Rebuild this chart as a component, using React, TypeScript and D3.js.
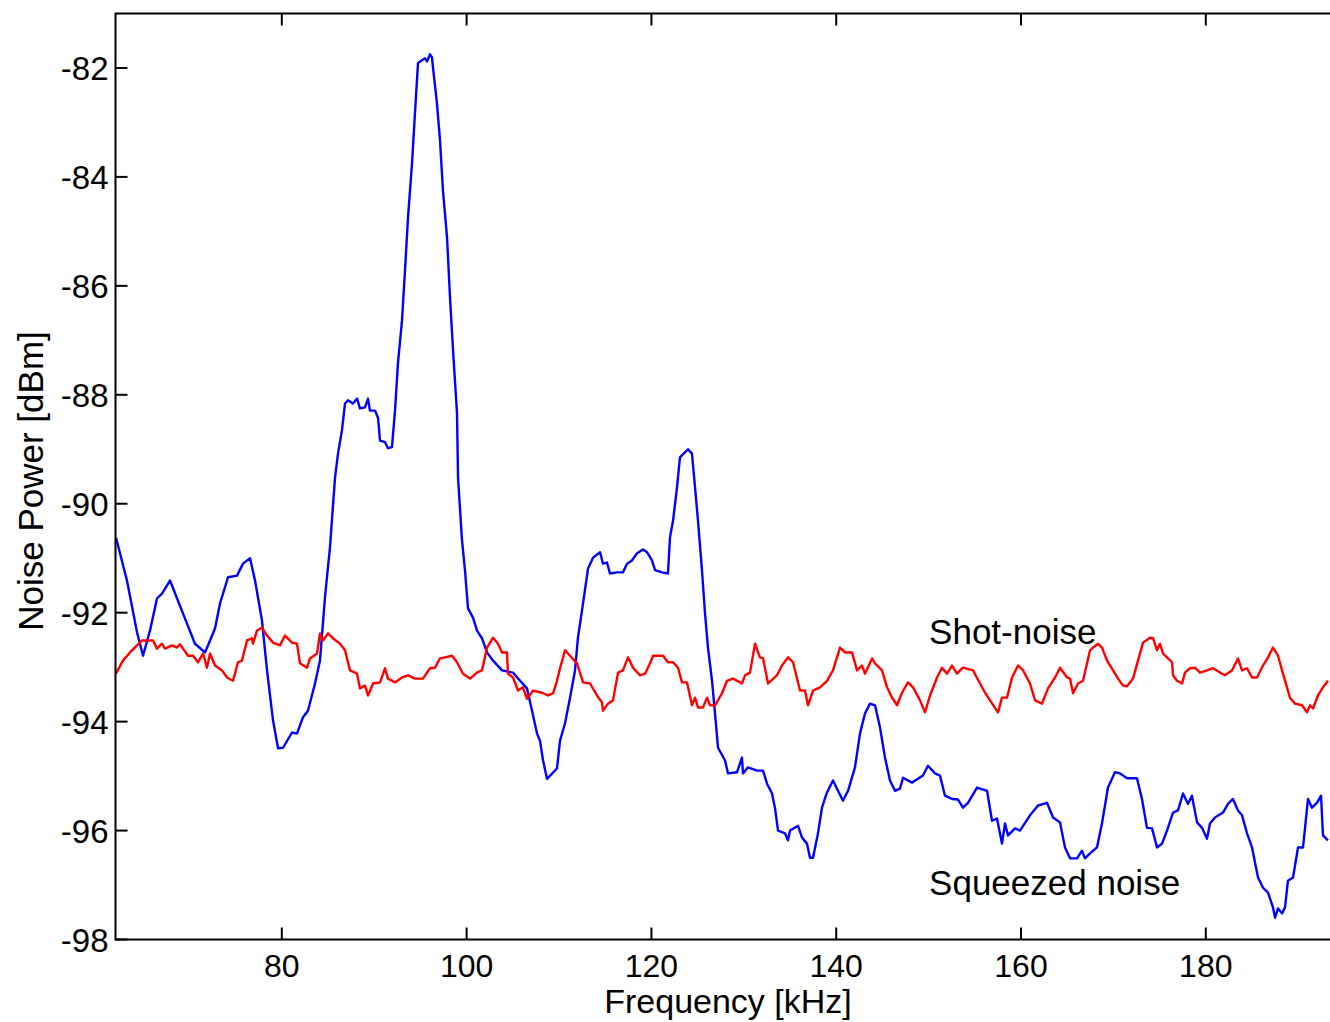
import React, { useRef, useEffect } from "react";
import * as d3 from "d3";

// squeezed noise trace (blue)
const squeezedFreq = [
  62.05, 63.24, 64.33, 64.98, 65.73, 66.49, 67.03, 67.9, 68.76, 69.74, 70.6, 71.69, 72.77, 73.31, 74.18, 75.15, 75.8, 76.56,
  77.1, 77.85, 78.4, 79.05, 79.59, 80.13, 81.1, 81.64, 82.29, 82.83, 83.59, 84.13, 84.67, 85.21, 85.76, 86.08, 86.51, 86.84,
  87.16, 87.7, 88.14, 88.46, 89.0, 89.33, 89.54, 90.08, 90.41, 90.63, 91.17, 91.49, 91.92, 92.25, 92.57, 93.01, 93.33, 93.66,
  94.09, 94.41, 94.74, 95.17, 95.5, 95.71, 96.04, 96.25, 96.36, 96.79, 97.12, 97.44, 97.88, 98.2, 98.53, 98.96, 99.07, 99.5,
  99.82, 100.15, 100.69, 101.12, 101.66, 102.21, 102.86, 103.83, 105.02, 105.78, 106.53, 107.08, 107.62, 107.94, 108.27,
  108.7, 109.78, 110.11, 110.65, 111.19, 111.73, 112.05, 112.6, 113.14, 113.68, 114.44, 114.76, 115.19, 115.52, 116.28,
  116.92, 117.36, 117.9, 118.44, 119.09, 119.52, 120.06, 120.39, 121.15, 121.79, 122.01, 122.34, 122.77, 123.09, 123.96,
  124.39, 124.72, 125.04, 125.47, 125.8, 126.12, 126.56, 126.88, 127.21, 127.96, 128.29, 129.26, 129.8, 129.91, 130.45,
  131.43, 132.08, 132.51, 133.05, 133.37, 133.7, 134.46, 134.78, 135.0, 135.86, 136.3, 136.84, 137.16, 137.49, 138.03,
  138.46, 139.0, 139.65, 140.19, 140.73, 141.28, 142.03, 142.57, 143.11, 143.66, 144.2, 144.74, 145.28, 145.82, 146.36,
  146.9, 147.23, 148.2, 149.39, 149.93, 150.69, 151.23, 151.77, 152.53, 153.18, 153.72, 154.26, 155.24, 156.32, 156.86,
  157.4, 157.94, 158.27, 158.59, 159.35, 159.89, 160.97, 161.84, 162.81, 163.46, 164.22, 164.76, 165.3, 166.06, 166.6,
  166.92, 167.47, 168.22, 168.76, 169.41, 170.17, 170.71, 171.47, 172.55, 173.09, 173.63, 174.18, 174.72, 175.26, 175.8,
  176.45, 176.99, 177.53, 178.07, 178.5, 179.05, 179.59, 180.13, 180.45, 180.99, 181.86, 182.4, 182.94, 183.48, 183.92,
  184.46, 185.0, 185.65, 186.19, 186.73, 187.27, 187.49, 187.81, 188.25, 188.57, 188.89, 189.44, 189.98, 190.52, 191.06,
  191.49, 192.03, 192.47, 192.68, 193.22,
];
const squeezedPower = [
  -90.62, -91.41, -92.36, -92.79, -92.33, -91.74, -91.65, -91.41, -91.78, -92.2, -92.57, -92.73, -92.29, -91.83, -91.35,
  -91.32, -91.1, -91.0, -91.41, -92.14, -93.06, -93.98, -94.49, -94.48, -94.2, -94.22, -93.92, -93.8, -93.3, -92.88, -91.72,
  -90.8, -89.52, -89.08, -88.65, -88.16, -88.1, -88.16, -88.07, -88.25, -88.23, -88.07, -88.29, -88.29, -88.42, -88.84,
  -88.87, -88.98, -88.96, -88.29, -87.42, -86.63, -85.72, -84.74, -83.75, -82.83, -81.91, -81.86, -81.82, -81.88, -81.75,
  -81.8, -81.99, -82.65, -83.33, -84.25, -85.11, -86.21, -87.18, -88.34, -89.52, -90.67, -91.22, -91.92, -92.09, -92.33,
  -92.47, -92.73, -92.88, -93.06, -93.1, -93.25, -93.39, -93.8, -94.22, -94.35, -94.71, -95.05, -94.86, -94.35, -94.03,
  -93.56, -93.06, -92.46, -91.83, -91.19, -90.99, -90.89, -91.1, -91.08, -91.28, -91.26, -91.26, -91.1, -91.04, -90.91,
  -90.84, -90.89, -91.04, -91.22, -91.26, -91.28, -90.62, -90.31, -89.7, -89.15, -89.0, -89.08, -89.7, -90.31, -91.22,
  -92.01, -92.64, -93.25, -93.85, -94.48, -94.71, -94.95, -94.93, -94.66, -94.95, -94.84, -94.9, -94.9, -95.14, -95.32,
  -95.58, -96.0, -96.05, -96.18, -96.0, -95.91, -96.13, -96.24, -96.5, -96.5, -96.05, -95.58, -95.3, -95.08, -95.27, -95.45,
  -95.27, -94.84, -94.22, -93.85, -93.67, -93.7, -94.11, -94.66, -95.08, -95.27, -95.23, -95.03, -95.12, -94.99, -94.81,
  -94.95, -94.99, -95.36, -95.42, -95.43, -95.58, -95.49, -95.21, -95.27, -95.82, -95.78, -96.24, -95.87, -96.09, -95.96,
  -96.0, -95.72, -95.54, -95.49, -95.76, -95.85, -96.31, -96.51, -96.51, -96.37, -96.51, -96.42, -96.31, -95.87, -95.21,
  -94.93, -94.95, -95.04, -95.04, -95.42, -95.95, -95.96, -96.31, -96.24, -96.0, -95.67, -95.63, -95.32, -95.51, -95.36,
  -95.85, -95.95, -96.15, -95.87, -95.76, -95.67, -95.51, -95.42, -95.63, -95.72, -96.05, -96.31, -96.86, -97.05, -97.14,
  -97.41, -97.6, -97.43, -97.52, -97.41, -96.92, -96.86, -96.31, -96.31, -95.42, -95.58, -95.49, -95.36, -96.09, -96.18,
];

// shot-noise reference trace (red)
const shotFreq = [
  62.05, 62.81, 63.57, 64.33, 64.87, 66.06, 66.49, 67.03, 67.36, 68.11, 68.66, 68.98, 69.31, 69.85, 70.39, 70.93, 71.47,
  71.9, 72.23, 72.77, 73.53, 74.07, 74.72, 75.26, 75.69, 76.23, 76.77, 76.88, 77.31, 77.85, 78.4, 79.05, 79.8, 80.35, 81.1,
  81.64, 81.97, 82.73, 83.05, 83.81, 84.13, 84.46, 85.0, 85.54, 86.3, 86.84, 87.38, 88.14, 88.46, 89.0, 89.33, 89.87, 90.63,
  91.17, 91.49, 92.25, 93.01, 93.66, 94.41, 95.28, 96.04, 96.58, 97.12, 97.66, 98.42, 98.96, 99.61, 100.37, 101.12, 101.66,
  102.21, 102.86, 103.4, 103.83, 104.37, 104.48, 105.02, 105.56, 106.1, 106.53, 107.19, 108.16, 108.81, 109.35, 109.78,
  110.11, 110.65, 111.19, 111.95, 112.6, 113.36, 114.11, 114.65, 114.76, 115.3, 115.84, 116.39, 116.92, 117.47, 118.01,
  118.77, 119.31, 119.85, 120.17, 121.26, 121.79, 122.34, 122.88, 123.31, 123.85, 124.39, 124.72, 125.04, 125.58, 126.02,
  126.34, 126.88, 127.64, 128.18, 128.83, 129.8, 130.13, 130.67, 131.21, 131.75, 132.08, 132.62, 133.59, 134.13, 134.78,
  135.33, 136.08, 136.62, 136.95, 137.49, 138.25, 139.0, 139.65, 140.41, 140.95, 141.71, 142.25, 142.79, 143.11, 143.88,
  144.2, 144.96, 145.5, 146.04, 146.58, 147.12, 147.77, 148.31, 149.07, 149.61, 150.15, 150.91, 151.45, 151.99, 152.53,
  153.07, 153.72, 154.81, 155.56, 156.11, 156.65, 157.51, 157.94, 158.49, 159.03, 159.68, 160.22, 160.97, 161.52, 162.27,
  162.92, 163.68, 164.22, 164.98, 165.3, 165.63, 166.17, 166.71, 167.47, 167.79, 168.34, 168.76, 169.31, 169.96, 170.5,
  171.04, 171.47, 172.12, 172.66, 173.2, 173.96, 174.29, 174.72, 175.04, 175.37, 175.8, 176.34, 176.45, 176.88, 177.43,
  177.75, 178.29, 178.83, 179.37, 180.13, 180.78, 181.54, 182.08, 182.83, 183.48, 183.92, 184.46, 185.0, 185.54, 186.19,
  186.73, 187.27, 187.81, 188.35, 189.11, 189.65, 190.41, 190.95, 191.28, 191.6, 192.14, 192.68, 193.22,
];
const shotPower = [
  -93.12, -92.88, -92.73, -92.6, -92.51, -92.51, -92.66, -92.57, -92.66, -92.6, -92.64, -92.58, -92.66, -92.79, -92.79,
  -92.91, -92.75, -93.01, -92.75, -92.97, -93.06, -93.19, -93.25, -92.91, -92.88, -92.51, -92.47, -92.57, -92.33, -92.27,
  -92.42, -92.55, -92.6, -92.42, -92.55, -92.57, -92.93, -93.01, -92.84, -92.75, -92.38, -92.51, -92.38, -92.47, -92.57,
  -92.69, -93.06, -93.12, -93.39, -93.34, -93.52, -93.3, -93.28, -93.02, -93.21, -93.28, -93.19, -93.15, -93.21, -93.21,
  -93.02, -93.01, -92.84, -92.82, -92.79, -92.91, -93.12, -93.21, -93.1, -93.06, -92.64, -92.46, -92.57, -92.73, -92.73,
  -93.12, -93.19, -93.43, -93.37, -93.58, -93.43, -93.47, -93.52, -93.48, -93.25, -93.02, -92.69, -92.79, -92.93, -93.28,
  -93.3, -93.52, -93.65, -93.8, -93.67, -93.61, -93.1, -93.06, -92.82, -93.01, -93.15, -93.12, -92.93, -92.79, -92.79,
  -92.91, -92.91, -93.01, -93.28, -93.28, -93.7, -93.56, -93.74, -93.74, -93.56, -93.7, -93.7, -93.48, -93.25, -93.21,
  -93.3, -93.15, -93.1, -92.57, -92.82, -92.84, -93.3, -93.15, -92.97, -92.82, -92.91, -93.43, -93.43, -93.7, -93.43,
  -93.37, -93.25, -93.06, -92.64, -92.73, -92.73, -93.06, -92.97, -93.12, -92.84, -92.93, -93.06, -93.37, -93.56, -93.7,
  -93.47, -93.28, -93.37, -93.61, -93.83, -93.52, -93.19, -93.01, -93.12, -92.97, -93.12, -93.01, -93.06, -93.3, -93.47,
  -93.61, -93.83, -93.56, -93.56, -93.19, -92.97, -93.06, -93.3, -93.61, -93.67, -93.39, -93.19, -93.01, -93.19, -93.21,
  -93.48, -93.3, -93.25, -92.69, -92.64, -92.57, -92.64, -92.88, -93.06, -93.21, -93.34, -93.35, -93.21, -92.88, -92.55,
  -92.46, -92.47, -92.69, -92.57, -92.75, -92.82, -92.91, -93.15, -93.25, -93.3, -93.1, -93.02, -93.01, -93.1, -93.06,
  -93.02, -93.1, -93.15, -93.06, -92.84, -93.06, -93.02, -93.19, -93.19, -92.97, -92.82, -92.64, -92.79, -93.12, -93.56,
  -93.67, -93.7, -93.83, -93.7, -93.76, -93.52, -93.37, -93.25,
];

const xTicks = [80, 100, 120, 140, 160, 180];
const yTicks = [-98, -96, -94, -92, -90, -88, -86, -84, -82];
const labels = [
  { text: "Shot-noise", f: 150.05, p: -92.57 },
  { text: "Squeezed noise", f: 150.05, p: -97.18 },
];

const W = 1330;
const H = 1022;
const FONT = "'Liberation Sans', Arial, sans-serif";

const App = () => {
  const ref = useRef(null);

  useEffect(() => {
    const svg = d3.select(ref.current);
    svg.selectAll("*").remove();

    const left = 115.5;
    const top = 13.5;
    const bottom = 939.5;
    const right = 1334;

    const x = d3.scaleLinear().domain([62, 193.5]).range([left, left + 131.5 * 9.24]);
    const y = d3.scaleLinear().domain([-98, -81]).range([bottom, top]);

    const g = svg.append("g");

    const line = (fs, ps) =>
      d3
        .line()
        .x((d) => x(fs[d]))
        .y((d) => y(ps[d]))(d3.range(fs.length));

    g.append("path")
      .attr("d", line(squeezedFreq, squeezedPower))
      .attr("fill", "none")
      .attr("stroke", "#0000ff")
      .attr("stroke-width", 2.4)
      .attr("stroke-linejoin", "round");

    g.append("path")
      .attr("d", line(shotFreq, shotPower))
      .attr("fill", "none")
      .attr("stroke", "#ff0000")
      .attr("stroke-width", 2.4)
      .attr("stroke-linejoin", "round");

    // box
    g.append("rect")
      .attr("x", left)
      .attr("y", top)
      .attr("width", right - left)
      .attr("height", bottom - top)
      .attr("fill", "none")
      .attr("stroke", "#000")
      .attr("stroke-width", 2);

    // x ticks, bottom and top, inward
    xTicks.forEach((t) => {
      g.append("line")
        .attr("x1", x(t))
        .attr("x2", x(t))
        .attr("y1", bottom)
        .attr("y2", bottom - 12)
        .attr("stroke", "#000")
        .attr("stroke-width", 2);
      g.append("line")
        .attr("x1", x(t))
        .attr("x2", x(t))
        .attr("y1", top)
        .attr("y2", top + 12)
        .attr("stroke", "#000")
        .attr("stroke-width", 2);
      g.append("text")
        .attr("x", x(t))
        .attr("y", bottom + 37)
        .attr("text-anchor", "middle")
        .attr("font-family", FONT)
        .attr("font-size", 32)
        .text(t);
    });

    yTicks.forEach((t) => {
      g.append("line")
        .attr("x1", left)
        .attr("x2", left + 12)
        .attr("y1", y(t))
        .attr("y2", y(t))
        .attr("stroke", "#000")
        .attr("stroke-width", 2);
      g.append("text")
        .attr("x", left - 7)
        .attr("y", y(t) + 12)
        .attr("text-anchor", "end")
        .attr("font-family", FONT)
        .attr("font-size", 33)
        .text(t);
    });

    g.append("text")
      .attr("x", 728)
      .attr("y", 1013)
      .attr("text-anchor", "middle")
      .attr("font-family", FONT)
      .attr("font-size", 34)
      .text("Frequency [kHz]");

    g.append("text")
      .attr("transform", `translate(43,481) rotate(-90)`)
      .attr("text-anchor", "middle")
      .attr("font-family", FONT)
      .attr("font-size", 35)
      .text("Noise Power [dBm]");

    labels.forEach((l) => {
      g.append("text")
        .attr("x", x(l.f))
        .attr("y", y(l.p))
        .attr("font-family", FONT)
        .attr("font-size", 35)
        .text(l.text);
    });
  }, []);

  return (
    <svg
      ref={ref}
      width={W}
      height={H}
      style={{ position: "absolute", left: 0, top: 0, background: "#fff" }}
    ></svg>
  );
};

export default App;
